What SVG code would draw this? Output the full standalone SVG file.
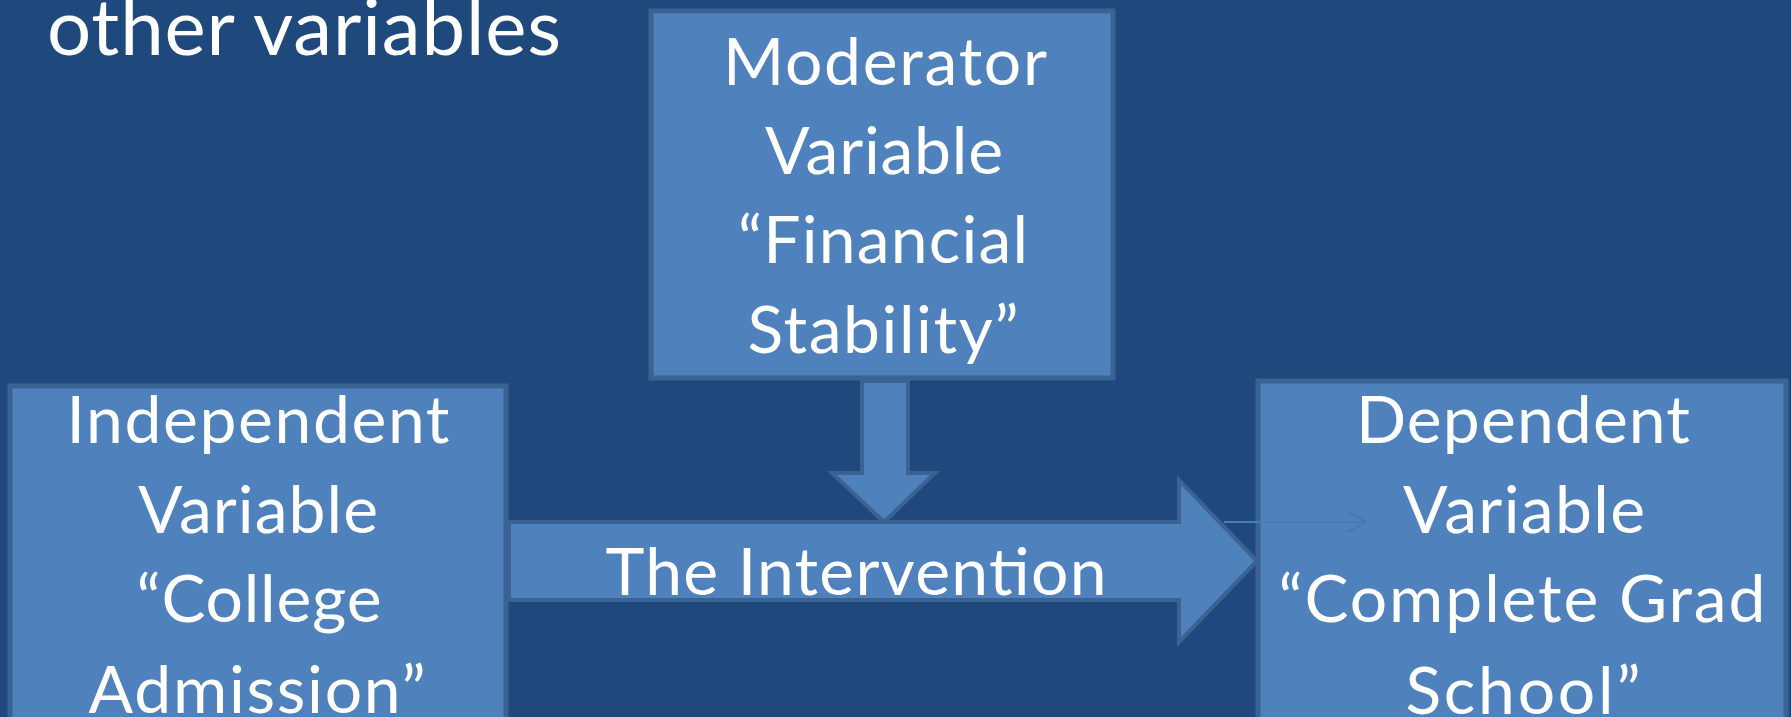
<svg xmlns="http://www.w3.org/2000/svg" width="1791" height="717" viewBox="0 0 1791 717">
<defs>
<style>
.box{fill:#4F81BD;stroke:#3A6393;stroke-width:5}
.arr{fill:#4F81BD;stroke:#3A6393;stroke-width:4;stroke-linejoin:miter}
.t{font-family:Lato,"Liberation Sans",sans-serif;font-size:66px;fill:#FFFFFF;text-anchor:middle}
.tl{font-family:Lato,"Liberation Sans",sans-serif;font-size:78px;fill:#FFFFFF}
</style>
<marker id="chev" viewBox="0 0 20 24" refX="19" refY="12" markerWidth="20" markerHeight="24" markerUnits="userSpaceOnUse" orient="auto">
<path d="M1,2 L19,12 L1,22" fill="none" stroke="#4676B0" stroke-width="1.5"/>
</marker>
</defs>
<rect x="0" y="0" width="1791" height="717" fill="#1F497D"/>
<text class="tl" x="47" y="55" textLength="514">other variables</text>
<g id="moderator">
<rect class="box" x="651" y="11" width="462" height="367"/>
<text class="t" x="885" y="85" textLength="324">Moderator</text>
<text class="t" x="884" y="174" textLength="238">Variable</text>
<text class="t" x="883" y="263" textLength="290">“Financial</text>
<text class="t" x="883" y="353" textLength="271">Stability”</text>
</g>
<g id="independent">
<rect class="box" x="10" y="386" width="496" height="345"/>
<text class="t" x="258" y="443" textLength="383">Independent</text>
<text class="t" x="258" y="533" textLength="240">Variable</text>
<text class="t" x="259" y="622" textLength="245">“College</text>
<text class="t" x="257" y="713" textLength="337">Admission”</text>
</g>
<g id="dependent">
<rect class="box" x="1258" y="381" width="528" height="350"/>
<text class="t" x="1523" y="443" textLength="334">Dependent</text>
<text class="t" x="1524" y="533" textLength="242">Variable</text>
<text class="t" x="1522" y="622" textLength="487">“Complete Grad</text>
<text class="t" x="1523" y="714" textLength="235">School”</text>
</g>
<g id="connectors">
<polygon class="arr" points="862,381 908,381 908,473 935,473 884,522 832,473 862,473"/>
<polygon class="arr" points="509,522 1179,522 1179,480 1257,561 1179,642 1179,600 509,600"/>
<line x1="1224" y1="522" x2="1366" y2="522" stroke="#4A7CB8" stroke-width="2" marker-end="url(#chev)"/>
<text class="t" x="856" y="595" textLength="501">The Intervention</text>
</g>
</svg>
